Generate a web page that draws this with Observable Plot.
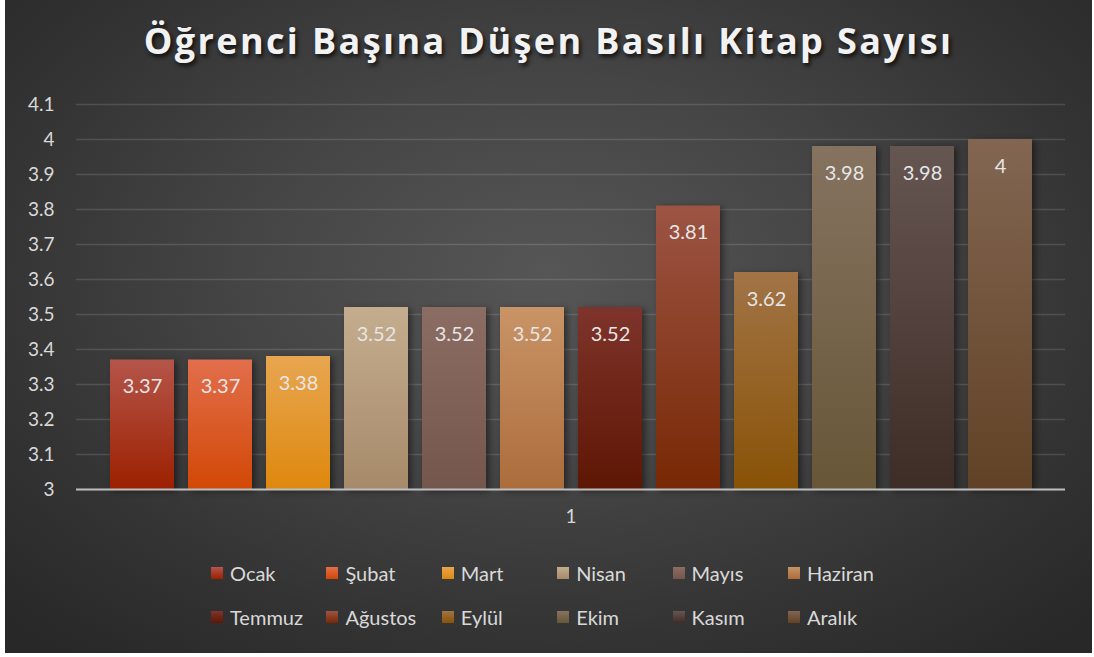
<!DOCTYPE html>
<html>
<head>
<meta charset="utf-8">
<script src="https://cdn.jsdelivr.net/npm/d3@7"></script>
<script src="https://cdn.jsdelivr.net/npm/@observablehq/plot@0.6"></script>
<style>
  html, body { margin: 0; padding: 0; background: #ffffff; }
  #card {
    position: absolute; left: 5px; top: 0; width: 1087px; height: 653px;
    background: radial-gradient(ellipse 70% 75% at 50% 42%, #565656 0%, #454545 40%, #333 75%, #282828 100%);
    overflow: hidden;
    font-family: Lato, "Open Sans", sans-serif;
  }
  #title {
    position: absolute; left: 0; top: 16px; width: 100%; text-align: center;
    font-family: "Open Sans", Lato, sans-serif; font-weight: 700; font-size: 36px;
    letter-spacing: 2.4px; color: #f2f2f2;
    text-shadow: 2px 3px 4px rgba(0,0,0,0.75);
  }
  #chart { position: absolute; left: 0; top: 90px; }
  #legend {
    position: absolute; left: 206px; top: 559px; width: 720px;
    display: grid; grid-template-columns: repeat(6, 115.4px); row-gap: 16px;
    font-size: 20px; color: #d9d9d9;
  }
  .item { display: flex; align-items: center; height: 28px; white-space: nowrap; }
  .sw { width: 12px; height: 12px; margin-right: 7px; flex: none; }
</style>
</head>
<body>
<div id="card">
  <div id="title"></div>
  <div id="chart"></div>
  <div id="legend"></div>
</div>
<script>
const titleText = "Öğrenci Başına Düşen Basılı Kitap Sayısı";
const months = ["Ocak", "Şubat", "Mart", "Nisan", "Mayıs", "Haziran", "Temmuz", "Ağustos", "Eylül", "Ekim", "Kasım", "Aralık"];
const values = [3.37, 3.37, 3.38, 3.52, 3.52, 3.52, 3.52, 3.81, 3.62, 3.98, 3.98, 4];
const categoryLabel = "1";
const yTicks = [3, 3.1, 3.2, 3.3, 3.4, 3.5, 3.6, 3.7, 3.8, 3.9, 4, 4.1];
const topColors = ["#b5554a", "#e26e4c", "#e8a650", "#c4ad8e", "#8c6d64", "#c99466", "#7e342b", "#9c5444", "#a27446", "#857360", "#665652", "#826652"];
const bottomColors = ["#9c2000", "#d24806", "#de880e", "#a68a6a", "#74564c", "#ac6c3c", "#5e1604", "#782804", "#885206", "#685638", "#3e2c26", "#624226"];

document.getElementById("title").textContent = titleText;

const yBase = yTicks[0];
const data = months.map((m, i) => ({month: m, value: values[i], base: yBase}));
const gradIds = months.map((m, i) => `grad${i}`);

const chart = Plot.plot({
  width: 1087,
  height: 450,
  marginLeft: 71,
  marginRight: 27,
  marginTop: 14,
  marginBottom: 51,
  style: {background: "transparent", color: "#d9d9d9", fontFamily: "Lato, 'Open Sans', sans-serif", fontSize: "19px", overflow: "visible"},
  x: {domain: months, paddingInner: 0.18, paddingOuter: 0.4, axis: null},
  y: {domain: [3, 4.1], ticks: yTicks, tickFormat: d => String(+d.toFixed(1)), tickSize: 0, tickPadding: 22, label: null},
  color: {domain: months, range: gradIds.map(id => `url(#${id})`)},
  marks: [
    Plot.gridY(yTicks, {stroke: "#ffffff", strokeOpacity: 0.13, strokeWidth: 1.5}),
    Plot.barY(data, {x: "month", y1: "base", y2: "value", fill: "month"}),
    Plot.ruleY([yBase], {stroke: "#bdbdbd", strokeWidth: 2}),
    Plot.text(data, {x: "month", y: "value", text: d => String(d.value), dy: 27, fill: "#e6e6e6", fontSize: 20}),
    Plot.text([categoryLabel], {frameAnchor: "bottom", dy: 33, fill: "#d9d9d9", fontSize: 19})
  ]
});

const defs = d3.select(chart).insert("defs", ":first-child");
months.forEach((m, i) => {
  const g = defs.append("linearGradient").attr("id", gradIds[i]).attr("x1", 0).attr("y1", 0).attr("x2", 0).attr("y2", 1);
  g.append("stop").attr("offset", "0%").attr("stop-color", topColors[i]);
  g.append("stop").attr("offset", "100%").attr("stop-color", bottomColors[i]);
});
d3.select(chart).selectAll("g[aria-label='bar'] rect").style("filter", "drop-shadow(3px 2px 3px rgba(0,0,0,0.45))");
document.getElementById("chart").appendChild(chart);

const legend = document.getElementById("legend");
months.forEach((m, i) => {
  const item = document.createElement("div");
  item.className = "item";
  const sw = document.createElement("span");
  sw.className = "sw";
  sw.style.background = `linear-gradient(${topColors[i]}, ${bottomColors[i]})`;
  const t = document.createElement("span");
  t.textContent = m;
  item.appendChild(sw);
  item.appendChild(t);
  legend.appendChild(item);
});
</script>
</body>
</html>
